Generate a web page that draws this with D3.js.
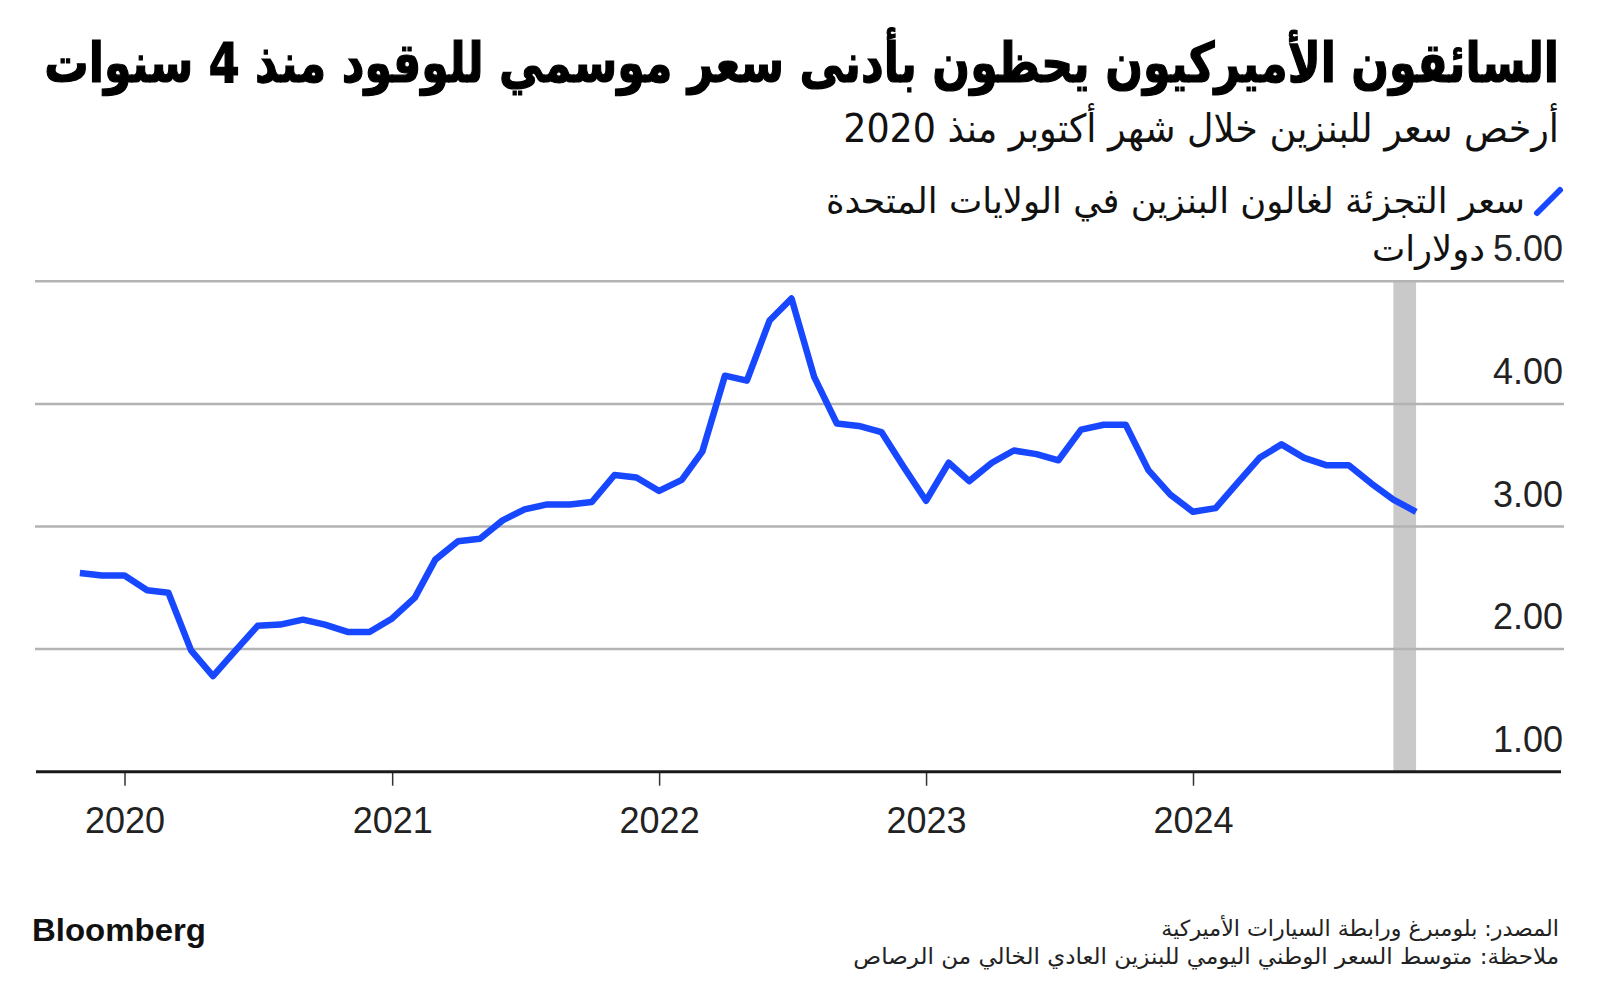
<!DOCTYPE html>
<html>
<head>
<meta charset="utf-8">
<script src="https://cdn.jsdelivr.net/npm/d3@7"></script>
<style>
body { margin: 0; background: #fff; }
svg { display: block; }
.ar { font-family: "DejaVu Sans Condensed", "DejaVu Sans", sans-serif; }
.num { font-family: "Liberation Sans", Arial, sans-serif; }
</style>
</head>
<body>
<script>
// Monthly retail price of regular gasoline, USD per gallon
var prices2019 = [2.62, 2.60]; // Nov, Dec
var prices2020 = [2.60, 2.48, 2.46, 1.99, 1.78, 1.99, 2.19, 2.20, 2.24, 2.20, 2.14, 2.14];
var prices2021 = [2.25, 2.42, 2.73, 2.88, 2.90, 3.05, 3.14, 3.18, 3.18, 3.20, 3.42, 3.40];
var prices2022 = [3.29, 3.38, 3.61, 4.23, 4.19, 4.68, 4.86, 4.22, 3.84, 3.82, 3.77, 3.49];
var prices2023 = [3.21, 3.52, 3.37, 3.52, 3.62, 3.59, 3.54, 3.79, 3.83, 3.83, 3.46, 3.26];
var prices2024 = [3.12, 3.15, 3.35, 3.56, 3.67, 3.56, 3.50, 3.50, 3.35, 3.22, 3.12]; // Jan-Nov

var yearTicks = [2020, 2021, 2022, 2023, 2024];
var priceTicks = [1, 2, 3, 4, 5];
var highlightMonth = ["2024-10-01", "2024-11-01"];

var title = "السائقون الأميركيون يحظون بأدنى سعر موسمي للوقود منذ 4 سنوات";
var subtitle = "أرخص سعر للبنزين خلال شهر أكتوبر منذ 2020";
var legendLabel = "سعر التجزئة لغالون البنزين في الولايات المتحدة";
var unitLabel = "دولارات";
var source = "المصدر: بلومبرغ ورابطة السيارات الأميركية";
var note = "ملاحظة: متوسط السعر الوطني اليومي للبنزين العادي الخالي من الرصاص";

var blue = "#1747ff";

// Build the table from yearly arrays
var data = [];
function addYear(year, firstMonth, values) {
  values.forEach(function(v, i) {
    data.push({date: new Date(year, firstMonth + i, 1), price: v});
  });
}
addYear(2019, 10, prices2019);
addYear(2020, 0, prices2020);
addYear(2021, 0, prices2021);
addYear(2022, 0, prices2022);
addYear(2023, 0, prices2023);
addYear(2024, 0, prices2024);

var width = 1600, height = 987;
var left = 35, right = 1564;

var x = d3.scaleTime()
  .domain([new Date(2020, 0, 1), new Date(2024, 0, 1)])
  .range([124.5, 1193]);
var y = d3.scaleLinear().domain([1, 5]).range([771.7, 281.3]);

var svg = d3.select("body").append("svg")
  .attr("width", width)
  .attr("height", height);

// scale text horizontally so it fills a given width, right aligned
function fitText(sel, rightX, w) {
  var bb = sel.node().getBBox();
  var sx = w / bb.width;
  sel.attr("transform", "translate(" + (rightX - sx * (bb.x + bb.width)) + ",0) scale(" + sx + ",1)");
}

//Titles
var t = svg.append("text").attr("class", "ar")
  .attr("direction", "rtl")
  .attr("y", 82).attr("font-size", 55).attr("font-weight", "bold")
  .attr("fill", "#000").attr("stroke", "#000").attr("stroke-width", 1.2)
  .text(title);
fitText(t, 1559, 1515);

var st = svg.append("text").attr("class", "ar")
  .attr("direction", "rtl")
  .attr("y", 142).attr("font-size", 39)
  .attr("fill", "#111").text(subtitle);
fitText(st, 1559, 716);

//Legend
svg.append("line")
  .attr("x1", 1537).attr("y1", 213)
  .attr("x2", 1560).attr("y2", 190)
  .attr("stroke", blue).attr("stroke-width", 6).attr("stroke-linecap", "round");

var lg = svg.append("text").attr("class", "ar")
  .attr("direction", "rtl")
  .attr("y", 213).attr("font-size", 35)
  .attr("fill", "#111").text(legendLabel);
fitText(lg, 1525, 699);

//Gray band for October 2024
svg.append("rect")
  .attr("x", x(new Date(highlightMonth[0])))
  .attr("width", x(new Date(highlightMonth[1])) - x(new Date(highlightMonth[0])))
  .attr("y", y(5))
  .attr("height", y(1) - y(5))
  .attr("fill", "#c9c9c9");

//Grid
svg.append("g")
  .selectAll("line")
  .data(priceTicks.filter(function(d) { return d > 1; }))
  .enter().append("line")
  .attr("x1", left).attr("x2", right)
  .attr("y1", function(d) { return y(d); })
  .attr("y2", function(d) { return y(d); })
  .attr("stroke", "#b3b3b3").attr("stroke-width", 2.5);

//Y labels
svg.append("g")
  .selectAll("text")
  .data(priceTicks)
  .enter().append("text")
  .attr("class", "num")
  .attr("x", 1563)
  .attr("y", function(d) { return y(d) - 20; })
  .attr("text-anchor", "end")
  .attr("font-size", 36)
  .attr("fill", "#222")
  .text(function(d) { return d3.format(".2f")(d); });

var ul = svg.append("text").attr("class", "ar")
  .attr("direction", "rtl")
  .attr("y", y(5) - 20).attr("font-size", 35)
  .attr("fill", "#111").text(unitLabel);
fitText(ul, 1485, 113);

//X axis
var xAxis = d3.axisBottom(x)
  .tickValues(yearTicks.map(function(yr) { return new Date(yr, 0, 1); }))
  .tickFormat(d3.timeFormat("%Y"))
  .tickSize(14)
  .tickPadding(22);

var gx = svg.append("g")
  .attr("transform", "translate(0," + y(1) + ")")
  .call(xAxis);
gx.select(".domain").remove();
gx.selectAll(".tick line").attr("stroke", "#333").attr("stroke-width", 1.5);
gx.selectAll(".tick text")
  .attr("class", "num")
  .attr("font-size", 36)
  .attr("fill", "#222");

svg.append("line")
  .attr("x1", left + 1).attr("x2", right - 3)
  .attr("y1", y(1)).attr("y2", y(1))
  .attr("stroke", "#1a1a1a").attr("stroke-width", 3);

//Price line
var line = d3.line()
  .x(function(d) { return x(d.date); })
  .y(function(d) { return y(d.price); });

svg.append("path")
  .datum(data)
  .attr("d", line)
  .attr("fill", "none")
  .attr("stroke", blue)
  .attr("stroke-width", 6.5)
  .attr("stroke-linejoin", "round");

//Footer
var bl = svg.append("text")
  .attr("y", 941).attr("font-size", 32).attr("font-weight", "bold")
  .attr("font-family", "'Liberation Sans', Arial, sans-serif")
  .attr("fill", "#111").text("Bloomberg");
fitText(bl, 206, 174);

var src = svg.append("text").attr("class", "ar")
  .attr("direction", "rtl")
  .attr("y", 936).attr("font-size", 22)
  .attr("fill", "#222").text(source);
fitText(src, 1559, 398);

var nt = svg.append("text").attr("class", "ar")
  .attr("direction", "rtl")
  .attr("y", 964).attr("font-size", 22)
  .attr("fill", "#222").text(note);
fitText(nt, 1559, 706);
</script>
</body>
</html>
